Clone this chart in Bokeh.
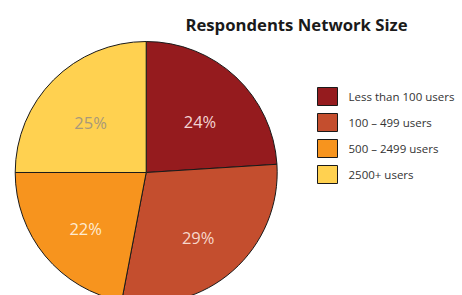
import math
from bokeh.plotting import figure
from bokeh.models import Range1d, ColumnDataSource
from bokeh.core.properties import value
from bokeh.embed import file_html
from bokeh.resources import INLINE

# ---- data ----
categories = ["Less than 100 users", "100 \u2013 499 users", "500 \u2013 2499 users", "2500+ users"]
shares = [24, 29, 22, 25]
labels = ["24%", "29%", "22%", "25%"]
colors = ["#951B1E", "#C44E2E", "#F7941E", "#FFD150"]
label_colors = ["#F3D3D3", "#F7D8CC", "#FEEBD2", "#A8997A"]
title = "Respondents Network Size"

W, H = 462, 295
p = figure(width=W, height=H, output_backend="svg", toolbar_location=None,
           x_range=Range1d(0, W), y_range=Range1d(0, H), min_border=0)
p.axis.visible = False
p.grid.visible = False
p.outline_line_color = None
p.background_fill_color = "white"
p.border_fill_color = "white"

cx, cy, R = 145.7, 123.0, 131.0
total = sum(shares)
starts, ends, lx, ly = [], [], [], []
acc = 0.0
for s in shares:
    a0 = math.pi / 2 - 2 * math.pi * acc / total
    acc += s
    a1 = math.pi / 2 - 2 * math.pi * acc / total
    starts.append(a0)
    ends.append(a1)
    mid = (a0 + a1) / 2
    lx.append(cx + 0.6 * R * math.cos(mid))
    ly.append(cy + 0.6 * R * math.sin(mid))

src = ColumnDataSource(dict(start=starts, end=ends, color=colors,
                            lx=lx, ly=ly, label=labels, lc=label_colors))
p.wedge(x=cx, y=cy, radius=R, start_angle="start", end_angle="end",
        direction="clock", fill_color="color", line_color="#1a1a1a",
        line_width=1, source=src)
p.text(x="lx", y="ly", text="label", text_color="lc", source=src,
       text_align="center", text_baseline="middle", y_offset=6,
       text_font=value("Open Sans"), text_font_size="16.5px")

# legend
n = len(categories)
bx = [327] * n
by = [199 - 26 * i for i in range(n)]
tx = [348] * n
lsrc = ColumnDataSource(dict(bx=bx, by=by, tx=tx, color=colors, cat=categories))
p.rect(x="bx", y="by", width=20, height=18, fill_color="color",
       line_color="#1a1a1a", line_width=1, source=lsrc)
p.text(x="tx", y="by", text="cat", source=lsrc, text_color="#333333",
       text_align="left", text_baseline="middle",
       text_font=value("Open Sans"), text_font_size="11.5px")

p.text(x=[296], y=[271], text=[title], text_color="#1a1a1a",
       text_align="center", text_baseline="middle",
       text_font=value("Open Sans"), text_font_size="16.7px",
       text_font_style="bold")

open("out.html", "w").write(file_html(p, INLINE))
